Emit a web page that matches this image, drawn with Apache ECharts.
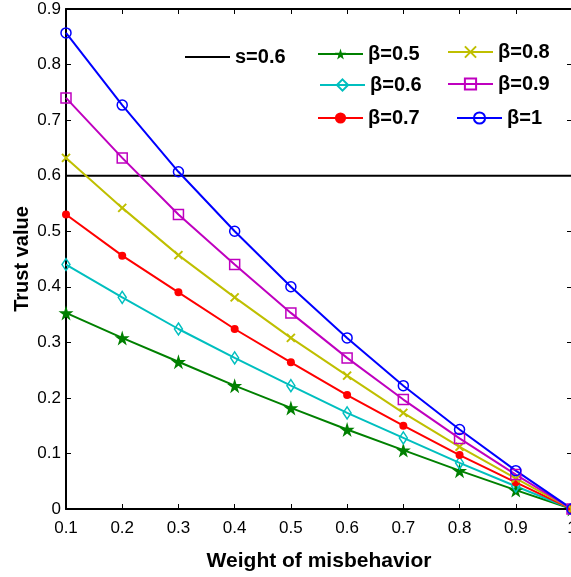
<!DOCTYPE html>
<html>
<head>
<meta charset="utf-8">
<script src="https://cdn.jsdelivr.net/npm/echarts@6/dist/echarts.min.js"></script>
<style>html,body{margin:0;padding:0;background:#fff}#c{width:571px;height:577px}</style>
</head>
<body>
<div id="c"></div>
<script>
const weights = [0.1, 0.2, 0.3, 0.4, 0.5, 0.6, 0.7, 0.8, 0.9, 1.0];
const beta05 = [0.353, 0.308, 0.265, 0.222, 0.182, 0.143, 0.106, 0.069, 0.034, 0];
const beta06 = [0.440, 0.381, 0.324, 0.272, 0.222, 0.173, 0.128, 0.083, 0.041, 0];
const beta07 = [0.530, 0.456, 0.390, 0.324, 0.264, 0.205, 0.150, 0.097, 0.048, 0];
const beta08 = [0.632, 0.542, 0.457, 0.381, 0.308, 0.240, 0.173, 0.112, 0.055, 0];
const beta09 = [0.740, 0.632, 0.530, 0.440, 0.353, 0.272, 0.197, 0.127, 0.062, 0];
const beta10 = [0.857, 0.727, 0.607, 0.500, 0.400, 0.308, 0.222, 0.143, 0.069, 0];
const thresholdX = [0.1, 1.0];
const thresholdY = [0.6, 0.6];
const seriesNames = ['β=0.5', 'β=0.6', 'β=0.7', 'β=0.8', 'β=0.9', 'β=1'];
const thresholdName = 's=0.6';

const FONT = 'Liberation Sans, Arial, sans-serif';
const pair = (xs, ys) => xs.map((x, i) => [x, ys[i]]);
const STAR = 'path://M50,0 L61,35 L98,35 L68,57 L79,91 L50,70 L21,91 L32,57 L2,35 L39,35 Z';
const XMARK = 'path://M0,0 L10,10 M10,0 L0,10';
const CLEAR = 'rgba(0,0,0,0)';

function lineSeries(name, data, color, symbol, size, fill, bw) {
  return {
    name, type: 'line', data, symbol, symbolSize: size,
    showAllSymbol: true,
    lineStyle: { color, width: 2 },
    itemStyle: { color: fill, borderColor: color, borderWidth: bw },
    emphasis: { disabled: true }
  };
}

const legendFont = { fontFamily: FONT, fontWeight: 'bold', fontSize: 20, color: '#000' };
function lg(item, left, top) {
  return { data: [item], left, top, itemWidth: 45, itemHeight: 14, itemGap: 0,
    textStyle: legendFont, selectedMode: false, padding: 0 };
}

const chart = echarts.init(document.getElementById('c'), null, { renderer: 'canvas' });
const tick = { show: true, inside: true, length: 5, lineStyle: { color: '#000', width: 1 } };
const axisLine = { show: true, onZero: false, lineStyle: { color: '#000', width: 2 } };
chart.setOption({
  animation: false,
  backgroundColor: '#fff',
  grid: { left: 66, top: 9, right: -1, bottom: 68, containLabel: false, outerBoundsMode: 'none' },
  legend: [
    lg({ name: thresholdName, itemStyle: { opacity: 0 } }, 184, 47),
    lg(seriesNames[0], 317, 44),
    lg(seriesNames[1], 319, 75),
    lg(seriesNames[2], 317, 108),
    lg(seriesNames[3], 447, 42),
    lg(seriesNames[4], 447, 74),
    lg(seriesNames[5], 456, 108)
  ],
  xAxis: [{
    type: 'value', min: 0.1, max: 1, interval: 0.1,
    axisLine, splitLine: { show: false }, axisTick: tick,
    axisLabel: { color: '#000', fontFamily: FONT, fontSize: 17, margin: 11,
      formatter: v => Math.abs(v - 1) < 1e-9 ? '1' : v.toFixed(1) },
    name: 'Weight of misbehavior', nameLocation: 'middle', nameGap: 42, nameMoveOverlap: false,
    nameTextStyle: { color: '#000', fontFamily: FONT, fontWeight: 'bold', fontSize: 21 }
  }, {
    type: 'value', min: 0.1, max: 1, interval: 0.1, position: 'top',
    axisLine, splitLine: { show: false }, axisTick: tick,
    axisLabel: { show: false }
  }],
  yAxis: [{
    type: 'value', min: 0, max: 0.9, interval: 0.1,
    axisLine, splitLine: { show: false }, axisTick: tick,
    axisLabel: { color: '#000', fontFamily: FONT, fontSize: 17, margin: 5,
      formatter: v => v === 0 ? '0' : v.toFixed(1) },
    name: 'Trust value', nameLocation: 'middle', nameGap: 34, nameMoveOverlap: false,
    nameTextStyle: { color: '#000', fontFamily: FONT, fontWeight: 'bold', fontSize: 20 }
  }, {
    type: 'value', min: 0, max: 0.9, interval: 0.1, position: 'right',
    axisLine, splitLine: { show: false }, axisTick: tick,
    axisLabel: { show: false }
  }],
  series: [
    { name: thresholdName, type: 'line', data: pair(thresholdX, thresholdY), symbol: 'none',
      lineStyle: { color: '#000', width: 2 }, itemStyle: { color: '#000' }, emphasis: { disabled: true } },
    lineSeries(seriesNames[0], pair(weights, beta05), '#008000', STAR, 15, '#008000', 0),
    lineSeries(seriesNames[1], pair(weights, beta06), '#00bfbf', 'diamond', [8, 12], CLEAR, 1.5),
    lineSeries(seriesNames[2], pair(weights, beta07), '#ff0000', 'circle', 8, '#ff0000', 0),
    lineSeries(seriesNames[3], pair(weights, beta08), '#bfbf00', XMARK, 8, CLEAR, 2),
    lineSeries(seriesNames[4], pair(weights, beta09), '#bf00bf', 'rect', 10, CLEAR, 1.5),
    lineSeries(seriesNames[5], pair(weights, beta10), '#0000ff', 'circle', 10, CLEAR, 1.5)
  ]
});
</script>
</body>
</html>
